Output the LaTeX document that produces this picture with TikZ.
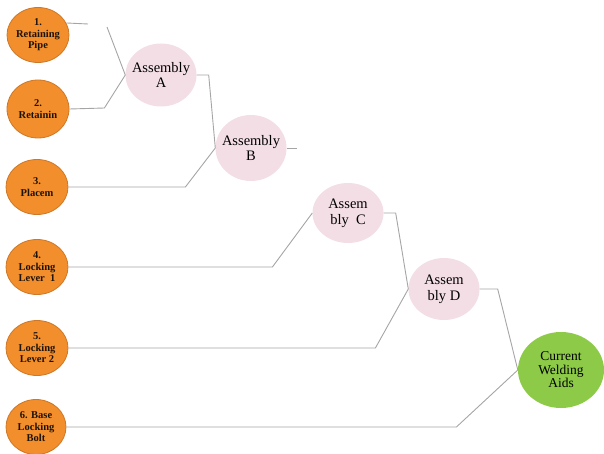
\documentclass[tikz,border=0pt]{standalone}
\usepackage{fontspec}
\setmainfont{Liberation Serif}
\usetikzlibrary{shapes.geometric}
\definecolor{partOrange}{RGB}{242, 142, 43}
\definecolor{partEdge}{RGB}{205, 120, 40}
\definecolor{assyPink}{RGB}{243, 222, 230}
\definecolor{finalGreen}{RGB}{140, 202, 72}
\definecolor{linkGray}{RGB}{165, 165, 165}

\begin{document}
\begin{tikzpicture}[x=1pt, y=-1pt,
    part/.style={ellipse, draw=partEdge, fill=partOrange, line width=0.8pt,
      minimum width=62pt, minimum height=55pt, inner xsep=-4pt, inner ysep=0pt,
      align=center, text=black!85!brown,
      font=\fontsize{10.5}{11.5}\selectfont\bfseries},
    assy/.style={ellipse, fill=assyPink, minimum width=71pt, minimum height=63pt,
      inner xsep=-6pt, inner ysep=0pt, align=center,
      font=\fontsize{14.5}{15}\selectfont},
    final/.style={ellipse, fill=finalGreen, minimum width=86pt, minimum height=76pt,
      inner sep=0pt, align=center, font=\fontsize{13.5}{13.5}\selectfont},
    link/.style={draw=linkGray, line width=0.9pt}]
        \useasboundingbox (0,0) rectangle (604,454);

        % Parts
        \node[part] (p1) at (38,35)  {1.\\Retaining\\Pipe};
        \node[part, minimum height=58pt] (p2) at (38,109) {2.\\Retainin};
        \node[part] (p3) at (37,187) {3.\\Placem};
        \node[part] (p4) at (37,267) {4.\\Locking\\Lever\ \ 1};
        \node[part] (p5) at (37,348) {5.\\Locking\\Lever 2};
        \node[part, minimum width=60pt] (p6) at (36,427) {6. Base\\Locking\\Bolt};

        % Assemblies
        \node[assy] (A) at (161,75)  {Assembly\\A};
        \node[assy, minimum height=66pt] (B) at (251,148) {Assembly\\B};
        \node[assy, minimum height=60pt, font=\fontsize{14.5}{16}\selectfont] (C) at (348,213) {Assem\\bly\ \ C};
        \node[assy, minimum height=62pt, font=\fontsize{14.5}{16}\selectfont] (D) at (444,289) {Assem\\bly D};
        \node[final] (W) at (561,370) {Current\\Welding\\Aids};

        % Links into A
        \coordinate (s1) at (88,24);
        \coordinate (t1) at (107,27);
        \draw[link] (p1.23) -- (s1);
        \draw[link] (t1) -- (A.west);
        \draw[link] (p2.east) -- ++(35,-1) -- (A.west);

        % Links into B
        \draw[link] (A.east) -- ++(12,0) -- (B.west);
        \draw[link] (p3.east) -- ++(117,0) -- (B.west);
        \coordinate (s2) at (297,148);
        \draw[link] (B.east) -- (s2);

        % Links into C
        \draw[link] (p4.east) -- ++(204,0) -- (C.west);

        % Links into D
        \draw[link] (C.east) -- ++(12,0) -- (D.west);
        \draw[link] (p5.east) -- ++(307,0) -- (D.west);

        % Links into the welding aids
        \draw[link] (D.east) -- ++(18,0) -- (W.west);
        \draw[link] (p6.east) -- ++(390,0) -- (W.west);
      \end{tikzpicture}
\end{document}
